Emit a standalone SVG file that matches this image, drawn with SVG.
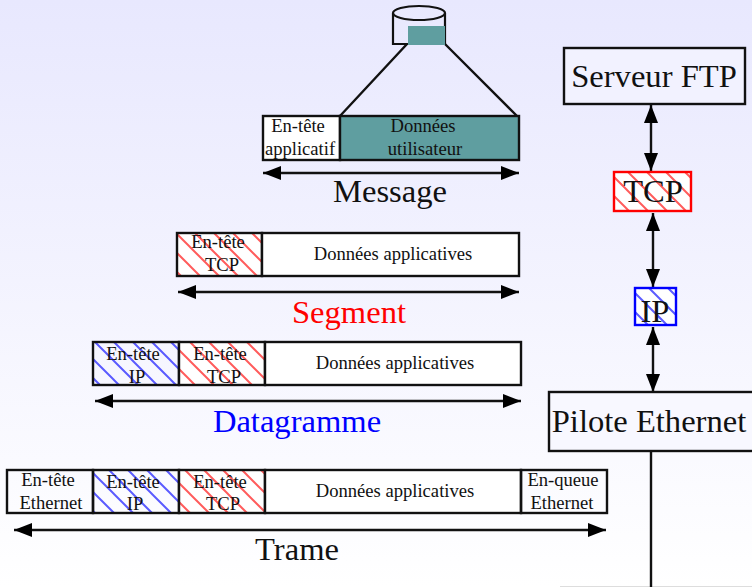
<svg xmlns="http://www.w3.org/2000/svg" width="752" height="587" viewBox="0 0 752 587">
<style>
text{font-family:"Liberation Serif","Times New Roman",serif;fill:#111;text-anchor:middle}
.m{font-size:18.6px}.l{font-size:32.6px}
.b{fill:none;stroke:#111;stroke-width:2.4}
.w{fill:#fff;stroke:#111;stroke-width:2.4}
.a{fill:none;stroke:#111;stroke-width:2.4;marker-start:url(#ah);marker-end:url(#ah)}
</style>
<defs>
<linearGradient id="bg" x1="0" y1="0" x2="0" y2="1"><stop offset="0" stop-color="#e8e8fe"/><stop offset="1" stop-color="#fff"/></linearGradient>
<pattern id="hr" width="19" height="19" patternUnits="userSpaceOnUse"><path d="M-5 -5L24 24M-5 14L5 24M14 -5L24 5" stroke="#f33" stroke-opacity=".8" stroke-width="2" fill="none"/></pattern>
<pattern id="hb" width="19" height="19" patternUnits="userSpaceOnUse"><path d="M-5 -5L24 24M-5 14L5 24M14 -5L24 5" stroke="#33f" stroke-opacity=".8" stroke-width="2" fill="none"/></pattern>
<marker id="ah" markerUnits="userSpaceOnUse" markerWidth="20" markerHeight="14" refX="18" refY="7" orient="auto-start-reverse"><path d="M0 0L18 7L0 14Z" fill="#000"/></marker>
</defs>
<rect width="752" height="587" fill="url(#bg)"/>
<rect x="560" y="586" width="192" height="1" fill="#ddd"/>
<g id="connectors">
<path class="b" d="M340 116L407 44M445 44L517 116"/>
<path class="a" d="M263 173H519"/>
<path class="a" d="M178 292H519"/>
<path class="a" d="M95 401H521"/>
<path class="a" d="M14 530H606"/>
<path class="a" d="M651 105V171"/>
<path class="a" d="M653 213V287"/>
<path class="a" d="M653 327V392"/>
<path class="b" d="M651 452V587"/>
</g>
<g id="disk">
<path d="M393 13V44H445V13" fill="none" stroke="#111" stroke-width="2.2"/>
<ellipse cx="419" cy="13" rx="26" ry="7" fill="none" stroke="#111" stroke-width="2.2"/>
<rect x="408" y="26" width="37" height="19" fill="#5f9ea0"/>
</g>
<g id="message">
<rect class="w" x="263" y="116" width="77" height="44"/>
<rect x="340" y="116" width="179" height="44" fill="#5f9ea0" stroke="#111" stroke-width="2.4"/>
<text class="m" x="298" y="132">En-tête</text><text class="m" x="300" y="155">applicatif</text>
<text class="m" x="423" y="132">Données</text><text class="m" x="425" y="155">utilisateur</text>
<text class="l" x="390" y="202">Message</text>
</g>
<g id="segment">
<rect x="177" y="233" width="85" height="43" fill="#fff"/><rect class="b" style="fill:url(#hr)" x="177" y="233" width="85" height="43"/>
<rect class="w" x="262" y="233" width="257" height="43"/>
<text class="m" x="218" y="248">En-tête</text><text class="m" x="222" y="271">TCP</text>
<text class="m" x="393" y="260">Données applicatives</text>
<text class="l" x="349" y="323" style="fill:#f00">Segment</text>
</g>
<g id="datagramme">
<rect class="b" style="fill:url(#hb)" x="93" y="342" width="86" height="43"/>
<rect x="179" y="342" width="86" height="43" fill="#fff"/><rect class="b" style="fill:url(#hr)" x="179" y="342" width="86" height="43"/>
<rect class="w" x="265" y="342" width="256" height="43"/>
<text class="m" x="133" y="360">En-tête</text><text class="m" x="137" y="383">IP</text>
<text class="m" x="220" y="360">En-tête</text><text class="m" x="224" y="383">TCP</text>
<text class="m" x="395" y="369">Données applicatives</text>
<text class="l" x="297" y="432" style="fill:#00f">Datagramme</text>
</g>
<g id="trame">
<rect class="b" x="7" y="470" width="86" height="43"/>
<rect class="b" style="fill:url(#hb)" x="93" y="470" width="86" height="43"/>
<rect x="179" y="470" width="86" height="43" fill="#fff"/><rect class="b" style="fill:url(#hr)" x="179" y="470" width="86" height="43"/>
<rect class="w" x="265" y="470" width="256" height="43"/>
<rect class="b" x="521" y="470" width="86" height="43"/>
<text class="m" x="48" y="486">En-tête</text><text class="m" x="51" y="509">Ethernet</text>
<text class="m" x="133" y="488">En-tête</text><text class="m" x="135" y="510">IP</text>
<text class="m" x="220" y="488">En-tête</text><text class="m" x="223" y="510">TCP</text>
<text class="m" x="395" y="497">Données applicatives</text>
<text class="m" x="563" y="486">En-queue</text><text class="m" x="562" y="509">Ethernet</text>
<text class="l" x="297" y="560">Trame</text>
</g>
<g id="serveur"><rect class="w" style="fill:#f2f2ff" x="564" y="48" width="181" height="56"/><text class="l" x="654" y="87">Serveur FTP</text></g>
<g id="tcp"><rect x="614" y="172" width="77" height="39" fill="#fff"/><rect style="fill:url(#hr);stroke:#f00;stroke-width:2.4" x="614" y="172" width="77" height="39"/><text class="l" x="653" y="202">TCP</text></g>
<g id="ip"><rect x="635" y="288" width="41" height="37" fill="#fff"/><rect style="fill:url(#hb);stroke:#00f;stroke-width:2.4" x="635" y="288" width="41" height="37"/><text class="l" x="655" y="322">IP</text></g>
<g id="pilote"><rect class="w" style="fill:#f8f8ff" x="549" y="392" width="205" height="59"/><text class="l" x="649" y="432">Pilote Ethernet</text></g>
</svg>
